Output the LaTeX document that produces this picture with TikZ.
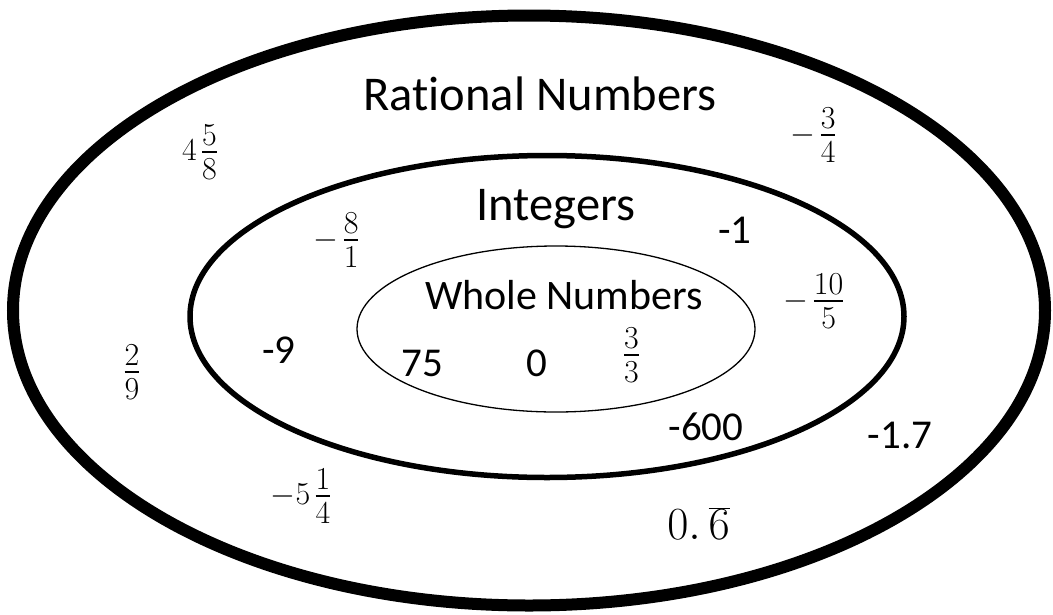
\RequirePackage{fix-cm}
\documentclass[tikz,border=0pt]{standalone}
\usepackage[no-math]{fontspec}
\setmainfont{Carlito}[Ligatures={NoCommon}]
\newcommand{\stackfrac}[2]{\mathinner{\vcenter{\offinterlineskip\halign{\hfil$\displaystyle##$\hfil\cr
  \vphantom{0}#1\cr\noalign{\kern0.17em\hrule height0.09em\kern0.17em}\vphantom{0}#2\cr}}}}
\begin{document}
\begin{tikzpicture}[x=1pt,y=-1pt,
  title/.style={inner sep=0pt, anchor=base, font=\fontsize{48.5}{56}\selectfont},
  subtitle/.style={inner sep=0pt, anchor=base, font=\fontsize{42}{50}\selectfont},
  num/.style={inner sep=0pt, anchor=base, font=\fontsize{41}{48}\selectfont},
  mathnum/.style={inner sep=0pt, anchor=center, font=\fontsize{32}{38}\selectfont},
  bigmath/.style={inner sep=0pt, anchor=center, font=\fontsize{46}{54}\selectfont},
  outerring/.style={draw=black, line width=12pt},
  middlering/.style={draw=black, line width=5.5pt},
  innerring/.style={draw=black, line width=1.3pt}]
\useasboundingbox (0,0) rectangle (1053,614);
% ellipses
\draw[outerring] (529,310.5) ellipse [x radius=516, y radius=295];
\draw[middlering] (547,316.5) ellipse [x radius=357, y radius=161];
\draw[innerring] (556,329) ellipse [x radius=199, y radius=83];
% headings
\node[title] (rational) at (540,110.8) {Rational Numbers};
\node[title] (integers) at (556,220) {Integers};
\node[subtitle] (whole) at (564,309) {Whole Numbers};
% plain numbers
\node[num] (n9) at (279,363) {-9};
\node[num] (n75) at (422,376) {75};
\node[num] (n0) at (537,376) {0};
\node[num] (n1) at (735,243) {-1};
\node[num] (n600) at (706,440) {-600};
\node[num] (n17) at (900,448) {-1.7};
% fractions
\node[mathnum] (f458) at (199.5,152) {$4\stackfrac{5}{8}$};
\node[mathnum] (f34) at (813,135) {$-\stackfrac{3}{4}$};
\node[mathnum] (f81) at (336,240) {$-\stackfrac{8}{1}$};
\node[mathnum] (f105) at (813.5,301) {$-\stackfrac{10}{5}$};
\node[mathnum] (f33) at (631.5,355) {$\stackfrac{3}{3}$};
\node[mathnum] (f29) at (132,372) {$\stackfrac{2}{9}$};
\node[mathnum] (f514) at (300.5,496) {$-5\stackfrac{1}{4}$};
\node[bigmath] (rep6) at (698.5,523.5) {$0.\,\overline{6}$};
\end{tikzpicture}
\end{document}
